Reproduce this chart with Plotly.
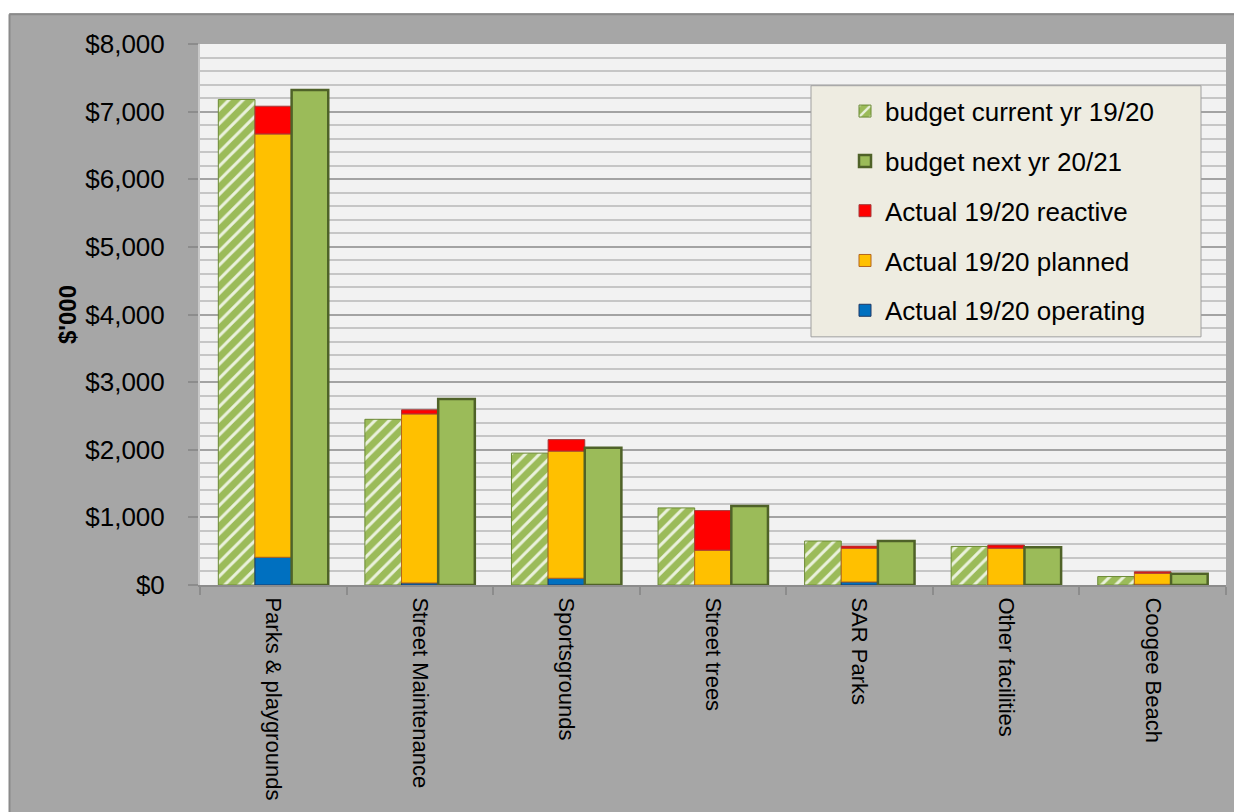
import numpy as np
import plotly.graph_objects as go

categories = ["Parks & playgrounds", "Street Maintenance", "Sportsgrounds",
              "Street trees", "SAR Parks", "Other facilities", "Coogee Beach"]
budget_current = [7180, 2450, 1950, 1140, 650, 570, 125]
budget_next = [7320, 2750, 2030, 1170, 650, 560, 165]
actual_operating = [410, 30, 100, 0, 45, 0, 10]
actual_planned = [6260, 2500, 1880, 515, 500, 545, 165]
actual_reactive = [410, 60, 170, 585, 30, 45, 20]
y_ticks = [0, 1000, 2000, 3000, 4000, 5000, 6000, 7000, 8000]
y_tick_labels = ["$0", "$1,000", "$2,000", "$3,000", "$4,000", "$5,000",
                 "$6,000", "$7,000", "$8,000"]

OFF = 8  # page body margin
W, H = 1242 - OFF, 812 - OFF
# plot area in page coordinates
PL, PR, PT, PB = 200, 1226, 44, 589
L, R, T, B = PL - OFF, (W + OFF) - PR, PT - OFF, (H + OFF) - PB
PW, PH = W - L - R, H - T - B


def px(x):  # page x -> paper
    return (x - PL) / PW


def py(y):  # page y -> paper
    return (PB - y) / PH


base_planned = np.array(actual_operating)
base_reactive = base_planned + np.array(actual_planned)

BW = 0.25
fig = go.Figure()
fig.add_trace(go.Bar(
    name="budget current yr 19/20", x=categories, y=budget_current,
    width=BW, offset=-0.375, legendrank=1, legendgroup="a",
    marker=dict(color="#9bbb59",
                line=dict(color="#6b8a35", width=1),
                pattern=dict(shape="/", fgcolor="#eaf1dc", bgcolor="#9bbb59",
                             size=10, solidity=0.3, fillmode="replace")),
))
fig.add_trace(go.Bar(
    name="Actual 19/20 operating", x=categories, y=actual_operating,
    width=BW, offset=-0.125, legendrank=5, legendgroup="e",
    marker=dict(color="#0070c0", line=dict(color="#1f3864", width=1)),
))
fig.add_trace(go.Bar(
    name="Actual 19/20 planned", x=categories, y=actual_planned, base=base_planned,
    width=BW, offset=-0.125, legendrank=4, legendgroup="d",
    marker=dict(color="#ffc000", line=dict(color="#b3651e", width=1)),
))
fig.add_trace(go.Bar(
    name="Actual 19/20 reactive", x=categories, y=actual_reactive, base=base_reactive,
    width=BW, offset=-0.125, legendrank=3, legendgroup="c",
    marker=dict(color="#ff0000", line=dict(color="#a33b3b", width=1)),
))
fig.add_trace(go.Bar(
    name="budget next yr 20/21", x=categories, y=budget_next,
    width=BW, offset=0.125, legendrank=2, legendgroup="b",
    marker=dict(color="#9bbb59", line=dict(color="#4f6228", width=2.5)),
))

shapes = [
    # white page margins outside the grey chart area
    dict(type="rect", xref="paper", yref="paper", x0=px(-50), x1=px(1300),
         y0=py(13), y1=py(-50), fillcolor="white", line=dict(width=0), layer="above"),
    dict(type="rect", xref="paper", yref="paper", x0=px(-50), x1=px(9),
         y0=py(900), y1=py(-50), fillcolor="white", line=dict(width=0), layer="above"),
    dict(type="line", xref="paper", yref="paper", x0=px(9.5), x1=px(1300),
         y0=py(14), y1=py(14), line=dict(color="#8a8a8a", width=2), layer="above"),
    dict(type="line", xref="paper", yref="paper", x0=px(9.5), x1=px(9.5),
         y0=py(14), y1=py(900), line=dict(color="#8a8a8a", width=2), layer="above"),
    # legend box
    dict(type="rect", xref="paper", yref="paper", x0=px(811), x1=px(1201),
         y0=py(339), y1=py(86), fillcolor="#eeece1",
         line=dict(color="#a0a0a0", width=1), layer="above"),
]

fig.update_layout(
    width=W, height=H,
    margin=dict(l=L, r=R, t=T, b=B),
    paper_bgcolor="#a6a6a6",
    plot_bgcolor="#f2f2f2",
    barmode="overlay",
    font=dict(family="Liberation Sans, Arial, sans-serif", color="#000000", size=24),
    showlegend=True,
    legend=dict(x=px(845), y=py(88), xanchor="left", yanchor="top",
                bgcolor="rgba(0,0,0,0)", borderwidth=0,
                font=dict(size=26, family="Liberation Sans, Arial, sans-serif"),
                tracegroupgap=13, traceorder="grouped"),
    shapes=shapes,
    xaxis=dict(
        type="category", tickangle=90, tickson="boundaries",
        ticks="outside", ticklen=8, tickcolor="#8c8c8c", tickwidth=2,
        ticklabelstandoff=6,
        showline=True, linecolor="#8c8c8c", linewidth=2,
        showgrid=False, tickfont=dict(size=22),
        range=[-0.5, len(categories) - 0.5],
    ),
    yaxis=dict(
        range=[0, 8000], tickvals=y_ticks, ticktext=y_tick_labels,
        ticks="outside", ticklen=10, tickcolor="#8c8c8c", tickwidth=2,
        ticklabelstandoff=18,
        showline=True, linecolor="#c8c8c8", linewidth=2,
        showgrid=True, gridcolor="#a3a3a3", gridwidth=2,
        minor=dict(dtick=200, showgrid=True, gridcolor="#c6c6c6", gridwidth=2, ticks=""),
        zeroline=False, tickfont=dict(size=26),
        title=dict(text="<b>$'000</b>", font=dict(size=24), standoff=2),
    ),
)

fig.write_html("out.html")
